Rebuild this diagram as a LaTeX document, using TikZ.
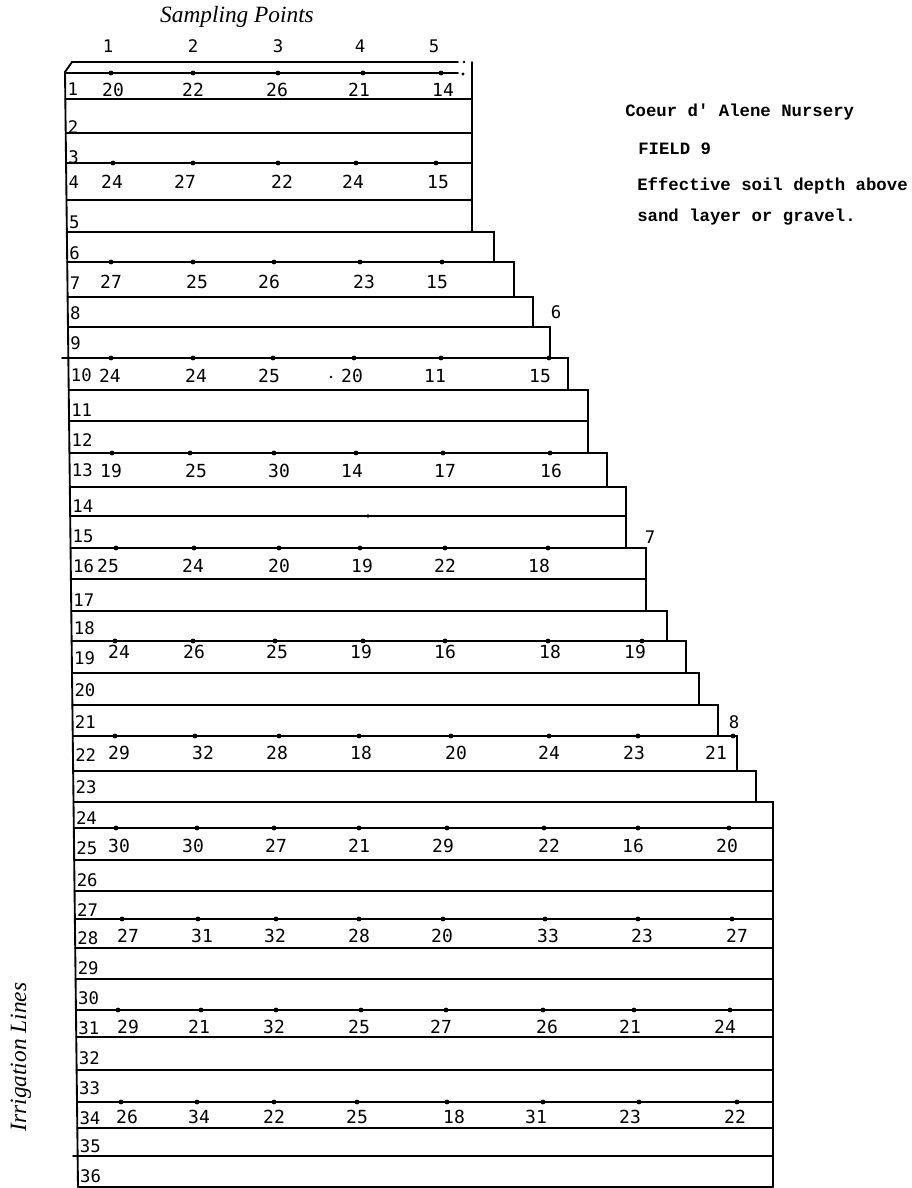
\documentclass[tikz,border=0pt]{standalone}
\usepackage{fontspec}
\newfontfamily\digfont{DejaVu Sans Mono}
\newfontfamily\twfont{Liberation Mono}
\newfontfamily\capfont{Liberation Serif}
\begin{document}
\begin{tikzpicture}[x=0.75pt,y=-0.75pt,
  declare function={lx(\t)=65+(\t-72)*0.01166;},
  rule/.style={line width=1.4pt, line cap=round},
  val/.style={font={\digfont\fontsize{13.5}{16}\selectfont}, anchor=base, inner sep=0pt},
  rowlab/.style={font={\digfont\fontsize{13}{16}\selectfont}, anchor=base west, inner sep=0pt},
  hdr/.style={font={\digfont\fontsize{13}{16}\selectfont}, anchor=base, inner sep=0pt},
  note/.style={font={\twfont\bfseries\fontsize{13}{16}\selectfont}, anchor=base west, inner sep=0pt},
  ital/.style={font={\capfont\itshape\fontsize{17.5}{20}\selectfont}, inner sep=0pt}]
\useasboundingbox (0,0) rectangle (912,1188);

% titles
\node[ital, anchor=base] (sp) at (237,23) {Sampling Points};
\node[ital, rotate=90] (il) at (21,1057) {Irrigation Lines};

% column headers
\foreach \c/\x in {1/108,2/193,3/278,4/360,5/434}
  \node[hdr] (h\c) at (\x,53) {\c};
\node[hdr] (h6) at (556,318) {6};
\node[hdr] (h7) at (650,543) {7};
\node[hdr] (h8) at (734,728) {8};

% notes
\node[note] (n1) at (625,116) {Coeur d' Alene Nursery};
\node[note] (n2) at (638,154) {FIELD 9};
\node[note] (n3) at (637,190) {Effective soil depth above};
\node[note] (n4) at (637,221) {sand layer or gravel.};

% frame top
\draw[rule] (65,72) -- (72,62) -- (458,62);
\fill (464,62) circle[radius=1.4];
\draw[rule] (472,62) -- (472,99);
\draw[rule] (65,72) -- (78,1187);
\draw[rule] ({lx(73)},73) -- (458,73);
\fill (463,74) circle[radius=1.6];

% rows
\foreach \k/\yt/\yb/\r in {
 2/99/133/472, 3/133/163/472, 4/163/200/472, 5/200/232/472,
 6/232/262/494, 7/262/297/514, 8/297/327/533, 9/327/358/550,
 10/358/390/568, 11/390/421/588, 12/421/453/588, 13/453/487/607,
 14/487/516/626, 15/516/548/626, 16/548/579/646, 17/579/611/646,
 18/611/641/667, 19/641/673/686, 20/673/705/699, 21/705/736/718,
 22/736/771/737, 23/771/802/756, 24/802/828/773, 25/828/860/773,
 26/860/891/773, 27/891/919/773, 28/919/948/773, 29/948/979/773,
 30/979/1010/773, 31/1010/1037/773, 32/1037/1070/773, 33/1070/1102/773,
 34/1102/1128/773, 35/1128/1156/773, 36/1156/1187/773}{
  \draw[rule] ({lx(\yt)},\yt) -- (\r,\yt) -- (\r,\yb);
}
\draw[rule] ({lx(1187)},1187) -- (773,1187);
\draw[rule] (62,358) -- ({lx(358)},358);
\draw[rule] (73,1156) -- ({lx(1156)},1156);

% row labels
\foreach \k/\b in {1/95,2/133,3/163,4/188,5/228,6/259,7/289,8/319,9/349,
 10/381,11/416,12/446,13/476,14/512,15/542,16/572,17/606,18/634,19/664,
 20/696,21/728,22/761,23/793,24/824,25/854,26/886,27/916,28/944,29/974,
 30/1004,31/1034,32/1064,33/1094,34/1124,35/1152,36/1182}
  \node[rowlab] (r\k) at ({lx(\b)+2},\b) {\k};

% sampling points and values
\foreach \k/\t/\b/\data in {
 1/73/97/{111/113/20,193/193/22,278/277/26,363/359/21,441/443/14},
 4/163/188/{113/112/24,193/185/27,278/282/22,356/353/24,436/438/15},
 7/262/288/{111/111/27,193/197/25,274/269/26,360/364/23,442/437/15},
 10/358/382/{111/110/24,193/196/24,273/269/25,354/352/20,441/435/11,549/540/15},
 13/453/477/{112/111/19,190/196/25,274/279/30,356/352/14,443/445/17,550/551/16},
 16/548/572/{116/108/25,194/193/24,279/279/20,360/362/19,445/445/22,548/539/18},
 19/641/658/{115/119/24,193/194/26,275/277/25,363/361/19,445/445/16,548/550/18,642/635/19},
 22/736/759/{115/119/29,195/203/32,279/277/28,359/361/18,451/456/20,549/549/24,638/634/23,733/716/21},
 25/828/852/{116/119/30,197/193/30,274/276/27,359/359/21,447/443/29,544/549/22,638/633/16,729/727/20},
 28/919/942/{122/128/27,198/202/31,276/275/32,359/359/28,443/442/20,545/548/33,638/642/23,732/737/27},
 31/1010/1033/{118/128/29,201/199/21,276/274/32,361/359/25,446/441/27,543/547/26,634/630/21,730/725/24},
 34/1102/1123/{121/127/26,197/199/34,274/274/22,357/357/25,447/454/18,543/536/31,639/630/23,737/735/22}}{
  \foreach \dx/\vx/\v [count=\i] in \data {
    \fill (\dx,\t) circle[radius=2.4];
    \node[val] (v\k-\i) at (\vx,\b) {\v};
  }
}
\fill (331,377) circle[radius=1.4];
\fill (368,516) circle[radius=1.8];
\end{tikzpicture}
\end{document}
